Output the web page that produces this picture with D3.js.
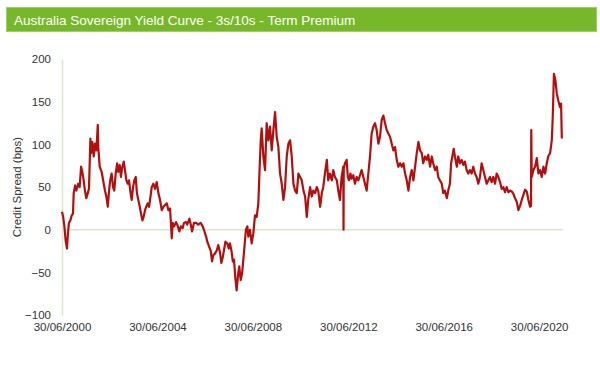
<!DOCTYPE html>
<html>
<head>
<meta charset="utf-8">
<script src="https://cdn.jsdelivr.net/npm/d3@7"></script>
<style>
  html, body { margin: 0; padding: 0; background: #fff; }
  svg { display: block; font-family: "Liberation Sans", Arial, Helvetica, sans-serif; }
</style>
</head>
<body>
<svg id="chart" width="600" height="367"></svg>
<script>
const title = "Australia Sovereign Yield Curve - 3s/10s - Term Premium";
const yAxisTitle = "Credit Spread (bps)";

// Dates as fractional years
const years = [
  2000.50,2000.55,2000.60,2000.65,2000.71,2000.74,2000.79,2000.85,2000.91,2000.96,
  2000.99,2001.05,2001.10,2001.18,2001.24,2001.30,2001.35,2001.41,2001.46,2001.52,
  2001.58,2001.63,2001.69,2001.72,2001.77,2001.83,2001.88,2001.94,2002.00,2002.02,
  2002.08,2002.16,2002.25,2002.30,2002.36,2002.42,2002.47,2002.52,2002.58,2002.64,
  2002.69,2002.75,2002.81,2002.86,2002.92,2002.97,2003.03,2003.09,2003.14,2003.20,
  2003.25,2003.31,2003.36,2003.42,2003.48,2003.53,2003.59,2003.64,2003.70,2003.76,
  2003.81,2003.87,2003.92,2003.98,2004.03,2004.09,2004.15,2004.20,2004.26,2004.33,
  2004.40,2004.47,2004.54,2004.61,2004.68,2004.75,2004.82,2004.89,2004.96,2005.03,
  2005.10,2005.14,2005.20,2005.28,2005.33,2005.42,2005.48,2005.56,2005.61,2005.70,
  2005.75,2005.84,2005.90,2005.95,2006.03,2006.12,2006.21,2006.31,2006.40,2006.45,
  2006.54,2006.59,2006.67,2006.73,2006.79,2006.84,2006.91,2006.99,2007.05,2007.12,
  2007.18,2007.24,2007.29,2007.35,2007.43,2007.49,2007.54,2007.60,2007.66,2007.71,
  2007.76,2007.82,2007.88,2007.93,2007.99,2008.05,2008.10,2008.16,2008.21,2008.27,
  2008.31,2008.38,2008.45,2008.52,2008.59,2008.66,2008.73,2008.77,2008.83,2008.87,
  2008.94,2009.01,2009.08,2009.15,2009.22,2009.29,2009.36,2009.43,2009.50,2009.57,
  2009.64,2009.71,2009.78,2009.85,2009.92,2009.99,2010.06,2010.13,2010.20,2010.27,
  2010.34,2010.41,2010.48,2010.55,2010.62,2010.69,2010.76,2010.82,2010.90,2010.97,
  2011.03,2011.11,2011.18,2011.24,2011.32,2011.39,2011.45,2011.52,2011.60,2011.66,
  2011.73,2011.81,2011.87,2011.94,2012.02,2012.08,2012.15,2012.22,2012.29,2012.30,
  2012.31,2012.36,2012.43,2012.48,2012.53,2012.59,2012.64,2012.71,2012.78,2012.85,
  2012.92,2012.99,2013.06,2013.13,2013.20,2013.27,2013.34,2013.41,2013.48,2013.55,
  2013.62,2013.69,2013.76,2013.83,2013.90,2013.97,2014.04,2014.11,2014.18,2014.25,
  2014.32,2014.39,2014.46,2014.53,2014.60,2014.67,2014.74,2014.81,2014.88,2014.95,
  2015.02,2015.09,2015.16,2015.23,2015.30,2015.37,2015.44,2015.51,2015.58,2015.64,
  2015.72,2015.79,2015.85,2015.93,2016.00,2016.06,2016.14,2016.21,2016.27,2016.34,
  2016.42,2016.48,2016.55,2016.63,2016.69,2016.76,2016.81,2016.86,2016.92,2016.97,
  2017.05,2017.11,2017.18,2017.25,2017.32,2017.39,2017.46,2017.53,2017.60,2017.67,
  2017.74,2017.81,2017.88,2017.95,2018.02,2018.09,2018.16,2018.23,2018.30,2018.37,
  2018.44,2018.51,2018.58,2018.65,2018.72,2018.79,2018.86,2018.93,2019.00,2019.07,
  2019.14,2019.21,2019.28,2019.35,2019.42,2019.49,2019.56,2019.63,2019.70,2019.77,
  2019.84,2019.91,2019.98,2020.05,2020.12,2020.16,2020.17,2020.19,2020.26,2020.33,
  2020.40,2020.47,2020.54,2020.61,2020.68,2020.75,2020.82,2020.88,2020.96,2021.03,
  2021.07,2021.12,2021.18,2021.24,2021.30,2021.37,2021.42,2021.45
];

// Term premium, bps
const spread = [
  21,15,4,-12,-22,-8,8,11,17,19,
  43,52,46,54,50,74,68,58,46,37,
  43,48,107,90,103,86,101,93,123,97,
  74,68,54,46,39,27,45,58,66,50,
  46,66,78,68,76,62,74,80,70,58,
  54,58,46,35,50,58,62,43,35,27,
  19,11,15,23,27,31,27,37,50,54,
  48,56,43,35,23,27,29,31,23,25,
  -10,8,4,9,6,-2,4,2,8,9,
  6,13,6,-2,8,8,6,8,4,0,
  -8,-14,-20,-24,-37,-30,-28,-24,-18,-26,
  -39,-32,-24,-14,-16,-22,-16,-24,-37,-35,
  -55,-71,-53,-43,-59,-51,-35,-16,0,4,
  -8,0,-16,-4,17,15,31,62,105,119,
  86,70,125,105,121,93,117,138,109,97,
  66,54,35,50,86,101,105,86,54,46,
  43,66,62,58,46,39,15,35,50,39,
  46,43,50,46,27,43,50,66,82,58,
  66,58,70,62,58,46,35,62,74,0,
  72,78,82,62,58,66,60,64,54,62,
  58,64,70,62,54,46,66,86,113,121,
  125,117,101,109,129,134,125,117,113,109,
  101,93,97,82,74,78,74,78,66,58,
  46,62,70,58,74,90,103,93,90,78,
  86,82,88,74,86,78,70,74,62,58,
  54,43,46,37,46,54,78,86,95,86,
  74,86,78,82,76,80,70,66,70,66,
  74,66,62,54,62,78,70,62,54,58,
  62,56,62,54,66,62,56,48,50,44,
  50,44,46,45,42,37,33,23,28,35,
  41,47,45,35,27,28,117,62,70,74,
  84,66,70,62,74,66,78,86,90,105,
  132,183,176,160,152,144,148,107
];

const xTickYears = [2000.5, 2004.5, 2008.5, 2012.5, 2016.5, 2020.5];
const xTickLabels = ["30/06/2000", "30/06/2004", "30/06/2008", "30/06/2012", "30/06/2016", "30/06/2020"];
const yTicks = [-100, -50, 0, 50, 100, 150, 200];

const svg = d3.select("#chart");

// Title bar
svg.append("rect")
  .attr("x", 6.5).attr("y", 7.5).attr("width", 590).attr("height", 24)
  .attr("fill", "#77b82a").attr("stroke", "#9fcf66").attr("stroke-width", 1);
svg.append("text")
  .attr("x", 14).attr("y", 24.5)
  .attr("fill", "#ffffff").attr("font-size", 13.5)
  .text(title);

const x = d3.scaleLinear().domain([2000.5, 2021.5]).range([62, 563]);
const y = d3.scaleLinear().domain([-100, 200]).range([315, 59.3]);

// Y axis
const yAxis = svg.append("g")
  .attr("transform", "translate(62,0)")
  .call(d3.axisLeft(y).tickValues(yTicks).tickSize(0).tickPadding(11).tickFormat(d3.format("d")));
yAxis.select(".domain").attr("stroke", "#dbe8c6").attr("stroke-width", 1.5);
yAxis.selectAll("text").attr("fill", "#333").attr("font-size", 11.5)
  .attr("font-family", "'Liberation Sans', Arial, sans-serif");

// Zero line
svg.append("line")
  .attr("x1", x(2000.5)).attr("x2", x(2021.5))
  .attr("y1", y(0)).attr("y2", y(0))
  .attr("stroke", "#dbe8c6").attr("stroke-width", 1.5);

// X axis labels
const xAxis = svg.append("g")
  .attr("transform", `translate(0,${y(-100)})`)
  .call(d3.axisBottom(x).tickValues(xTickYears).tickSize(0).tickPadding(8)
    .tickFormat((d, i) => xTickLabels[i]));
xAxis.select(".domain").remove();
xAxis.selectAll("text").attr("fill", "#333").attr("font-size", 11.5)
  .attr("font-family", "'Liberation Sans', Arial, sans-serif");

// Y axis title
svg.append("text")
  .attr("transform", `translate(21,${y(50)}) rotate(-90)`)
  .attr("text-anchor", "middle")
  .attr("fill", "#333").attr("font-size", 11.5)
  .text(yAxisTitle);

// Line
const data = years.map((yr, i) => ({ yr, v: spread[i] }));
svg.append("path")
  .datum(data)
  .attr("fill", "none")
  .attr("stroke", "#b30f0f")
  .attr("stroke-width", 2.2)
  .attr("stroke-linejoin", "round")
  .attr("d", d3.line().x(d => x(d.yr)).y(d => y(d.v)));
</script>
</body>
</html>
